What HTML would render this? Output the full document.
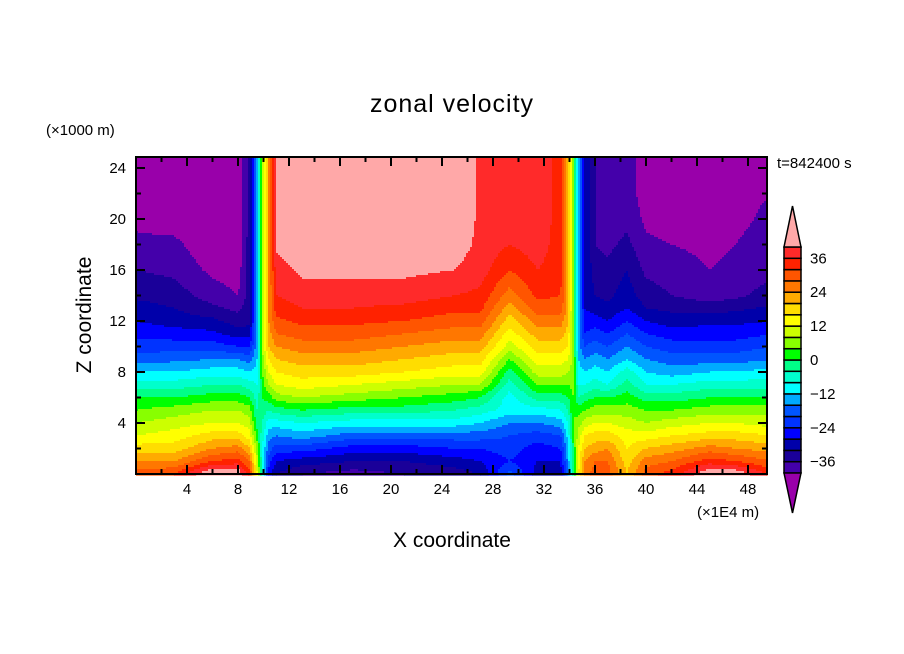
<!DOCTYPE html>
<html><head><meta charset="utf-8">
<style>
html,body{margin:0;padding:0;background:#fff;}
svg{display:block;font-family:"Liberation Sans","DejaVu Sans",sans-serif;}
</style></head>
<body>
<svg id="chart" width="904" height="654" viewBox="0 0 904 654" xmlns="http://www.w3.org/2000/svg">
<rect width="904" height="654" fill="#fff"/>
<text x="452" y="112" font-size="25" text-anchor="middle" letter-spacing="1">zonal velocity</text>
<text x="46" y="135" font-size="15">(×1000 m)</text>
<text x="777" y="168" font-size="15">t=842400 s</text>
<text x="697" y="517" font-size="15">(×1E4 m)</text>
<text x="452" y="547" font-size="21" text-anchor="middle">X coordinate</text>
<text transform="translate(91,315) rotate(-90)" font-size="21" text-anchor="middle">Z coordinate</text>
<g id="field"></g>
<g id="axes"></g>
<g id="cbar"></g>
</svg>
<script>
// ---- data ----
const levels = [-40,-36,-32,-28,-24,-20,-16,-12,-8,-4,0,4,8,12,16,20,24,28,32,36,40];
const levelColors = ['#4400aa','#1a0099','#0000aa','#0000ff','#0033ff','#0055ff','#00aaff','#00ffff','#00ffcc','#00ff88','#00ff00','#88ff00','#ccff00','#ffff00','#ffdd00','#ffaa00','#ff7700','#ff5500','#ff2200','#ff2a2a'];
const underColor = '#9900aa';
const overColor = '#ffa8a8';
const xTicks = [4,8,12,16,20,24,28,32,36,40,44,48];
const yTicks = [4,8,12,16,20,24];
const cbarLabels = [36,24,12,0,-12,-24,-36];
const zGrid = [0,1,2,3,4,5,6,7,8,9,10,11,12,13,14,16,18,20,22,25];
const xGrid = [0,3,6,8,8.9,9.5,9.9,10.4,11,13,17,21,25,27,29.3,31.5,33.3,33.9,34.3,34.7,35.2,36,37,38.5,40,42,45,47,50];
const uField = [
 [30,24,18,12,8,4,0,-6,-12,-18,-22,-25,-28,-30,-33,-36,-39,-41,-42,-42],
 [32,24,18,14,10,6,0,-6,-12,-17,-22,-26,-30,-32,-34,-37,-39,-42,-43,-43],
 [46,32,24,18,12,8,2,-4,-10,-16,-22,-27,-31,-35,-38,-41,-43,-44,-44,-44],
 [44,34,26,18,12,8,2,-4,-10,-16,-24,-30,-34,-37,-40,-42,-43,-44,-44,-44],
 [34,28,20,14,10,6,0,-6,-12,-18,-24,-30,-33,-34,-34,-34,-34,-34,-34,-34],
 [12,10,6,2,-2,-4,-6,-8,-10,-12,-14,-14,-14,-14,-14,-14,-14,-14,-14,-14],
 [-8,-8,-8,-6,-4,-2,0,2,4,6,8,8,8,8,8,8,8,8,8,8],
 [-26,-22,-18,-14,-10,-4,2,8,12,16,20,22,24,24,24,24,24,24,24,24],
 [-32,-28,-22,-16,-10,-2,6,12,16,20,24,28,31,34,36,38,41,41,41,41],
 [-36,-30,-22,-14,-8,0,8,14,18,22,26,30,33,36,38,41,44,46,46,46],
 [-38,-32,-26,-18,-10,-2,6,12,18,22,26,30,33,36,38,41,45,46,46,46],
 [-36,-32,-26,-18,-10,-2,4,10,16,20,24,28,32,35,38,41,44,46,46,46],
 [-34,-30,-24,-18,-10,-4,2,8,14,18,22,26,30,33,36,40,42,44,46,46],
 [-32,-28,-24,-18,-12,-6,0,8,14,18,22,26,30,33,35,38,39,39,39,39],
 [-18,-24,-22,-20,-16,-10,-10,-6,-2,4,10,14,18,22,26,32,36,39,39,39],
 [-30,-28,-26,-22,-16,-10,-2,4,10,14,18,22,26,30,33,36,38,39,39,39],
 [-30,-28,-24,-20,-14,-8,-2,4,10,14,18,22,26,30,32,34,34,34,34,34],
 [-16,-14,-12,-10,-8,-4,0,4,8,12,16,18,20,22,22,22,22,22,22,22],
 [-2,-2,0,2,4,4,4,6,6,6,6,4,4,4,4,4,4,4,4,4],
 [16,14,12,10,6,2,-4,-8,-10,-12,-14,-14,-14,-14,-14,-14,-14,-14,-14,-14],
 [26,24,20,16,10,4,-2,-8,-12,-16,-20,-24,-26,-28,-28,-28,-28,-28,-28,-28],
 [30,28,22,18,12,6,0,-6,-10,-14,-18,-22,-26,-30,-32,-34,-36,-36,-36,-36],
 [30,28,24,18,12,6,0,-8,-12,-16,-20,-24,-28,-31,-33,-35,-37,-38,-38,-38],
 [20,18,16,14,10,6,2,-2,-6,-12,-16,-20,-24,-28,-30,-32,-35,-37,-38,-38],
 [30,26,20,14,8,4,-2,-8,-12,-16,-20,-24,-28,-32,-34,-37,-39,-41,-42,-42],
 [34,28,22,16,10,4,-2,-8,-14,-18,-22,-26,-30,-33,-36,-38,-40,-42,-42,-42],
 [44,34,26,18,12,6,0,-6,-12,-18,-22,-26,-29,-34,-38,-40,-41,-42,-43,-43],
 [44,32,24,18,12,6,0,-6,-12,-18,-22,-26,-29,-33,-37,-39,-40,-41,-41,-42],
 [34,28,22,16,10,6,0,-6,-10,-16,-20,-24,-28,-31,-34,-37,-38,-39,-40,-40]
];
// ---- layout ----
const NS = 'http://www.w3.org/2000/svg';
const PL = 136, PR = 767, PT = 157, PB = 474;
const xScale = v => PL + v * 12.75;
const zScale = v => PB - v * 12.75;
const xInv = p => (p - PL) / 12.75;
const zInv = p => (PB - p) / 12.75;
function mk(tag, attrs, parent){ const e = document.createElementNS(NS, tag); for (const k in attrs) e.setAttribute(k, attrs[k]); parent.appendChild(e); return e; }
function findIdx(arr, v){ let i = 0; while (i < arr.length - 2 && v > arr[i+1]) i++; return i; }
function sample(x, z){
  x = Math.max(xGrid[0], Math.min(xGrid[xGrid.length-1], x));
  z = Math.max(zGrid[0], Math.min(zGrid[zGrid.length-1], z));
  const i = findIdx(xGrid, x), j = findIdx(zGrid, z);
  const tx = (x - xGrid[i]) / (xGrid[i+1] - xGrid[i]);
  const tz = (z - zGrid[j]) / (zGrid[j+1] - zGrid[j]);
  const a = uField[i][j], b = uField[i+1][j], c = uField[i][j+1], d = uField[i+1][j+1];
  return (a*(1-tx) + b*tx) * (1-tz) + (c*(1-tx) + d*tx) * tz;
}
function colorFor(v){
  if (v < levels[0]) return underColor;
  if (v >= levels[levels.length-1]) return overColor;
  let k = 0; while (k < levelColors.length - 1 && v >= levels[k+1]) k++;
  return levelColors[k];
}
// ---- field ----
const field = document.getElementById('field');
const step = 2;
function flush(x0, x1, y, color){
  const r = mk('rect', {x: x0, y: y, width: x1 - x0 + 0.6, height: step + 0.6, fill: color}, field);
  
  
}
for (let py = PT; py < PB; py += step) {
  const z = zInv(py + step/2);
  let runStart = PL, runColor = null;
  let px = PL;
  for (; px < PR; px += step) {
    const c = colorFor(sample(xInv(px + step/2), z));
    if (c !== runColor) {
      if (runColor !== null) flush(runStart, px, py, runColor);
      runStart = px; runColor = c;
    }
  }
  if (runColor !== null) flush(runStart, PR, py, runColor);
}
// ---- axes ----
const axes = document.getElementById('axes');
const frame = mk('rect', {x: PL, y: PT, width: PR-PL, height: PB-PT, fill: 'none', stroke: '#000', 'stroke-width': 2}, axes);


for (let v = 2; v < 50; v += 2) {
  const major = xTicks.includes(v);
  const len = major ? 9 : 5;
  const x = xScale(v);
  mk('line', {x1: x, y1: PB, x2: x, y2: PB - len, stroke: '#000', 'stroke-width': 2}, axes);
  mk('line', {x1: x, y1: PT, x2: x, y2: PT + len, stroke: '#000', 'stroke-width': 2}, axes);
}
xTicks.forEach(v => {
  const t = mk('text', {x: xScale(v), y: PB + 20, 'font-size': 15, 'text-anchor': 'middle'}, axes);
  t.textContent = v;
  
  
});
for (let v = 2; v < 25; v += 2) {
  const major = yTicks.includes(v);
  const len = major ? 9 : 5;
  const y = zScale(v);
  mk('line', {x1: PL, y1: y, x2: PL + len, y2: y, stroke: '#000', 'stroke-width': 2}, axes);
  mk('line', {x1: PR, y1: y, x2: PR - len, y2: y, stroke: '#000', 'stroke-width': 2}, axes);
}
yTicks.forEach(v => {
  const t = mk('text', {x: PL - 10, y: zScale(v) + 5, 'font-size': 15, 'text-anchor': 'end'}, axes);
  t.textContent = v;
  
  
});
// ---- colorbar ----
const cbar = document.getElementById('cbar');
const CX = 784, CW = 17, CTop = 247, CBot = 473;
const boxH = (CBot - CTop) / levelColors.length;
const cbY = v => CBot - (v - levels[0]) / (levels[levels.length-1] - levels[0]) * (CBot - CTop);
levelColors.forEach((c, k) => {
  const r = mk('rect', {x: CX, y: cbY(levels[k+1]), width: CW, height: boxH, fill: c, stroke: '#000', 'stroke-width': 1.5}, cbar);
  
  
});
const up = mk('polygon', {points: `${CX},${CTop} ${CX+CW},${CTop} ${CX+CW/2},206`, fill: overColor, stroke: '#000', 'stroke-width': 1.5}, cbar);


const dn = mk('polygon', {points: `${CX},${CBot} ${CX+CW},${CBot} ${CX+CW/2},513`, fill: underColor, stroke: '#000', 'stroke-width': 1.5}, cbar);


cbarLabels.forEach(v => {
  const t = mk('text', {x: 810, y: cbY(v) + 5, 'font-size': 15}, cbar);
  t.textContent = v < 0 ? '\u2212' + Math.abs(v) : String(v);
  
  
});
</script>
</body></html>
